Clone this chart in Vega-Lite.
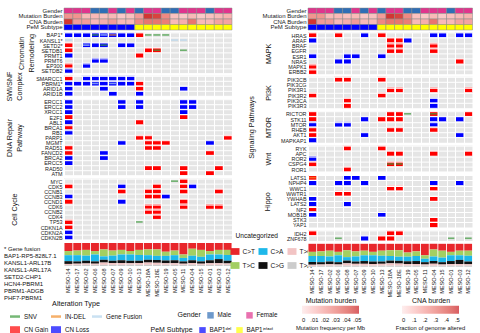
{
"$schema":"https://vega.github.io/schema/vega-lite/v6.json",
"padding":{"left":3,"top":7,"right":0,"bottom":0},
"background":"white",
"config":{
 "font":"Liberation Sans",
 "view":{"fill":"#e5e5e5","stroke":null},
 "axis":{"ticks":false,"domain":false,"labelFontSize":5.4,"labelColor":"#1a1a1a","titleFontWeight":"normal","titleFontSize":7.2,"titleColor":"#111","labelPadding":2,"grid":false},
 "legend":{"labelFontSize":6.3,"titleFontSize":7.2,"titleFontWeight":"normal","labelColor":"#111","titleColor":"#111"}
},
"datasets":{
 "samples":[
  {"sample":"MESO-14","gender":"Female","mut":0.022,"cna":0.45,"pem":"BAP1del","C>T":0.35,"T>C":0.18,"C>A":0.26,"C>G":0.12,"T>G":0.05,"T>A":0.04},
  {"sample":"MESO-17","gender":"Female","mut":0.022,"cna":0.2,"pem":"BAP1del","C>T":0.33,"T>C":0.2,"C>A":0.27,"C>G":0.1,"T>G":0.05,"T>A":0.05},
  {"sample":"MESO-02","gender":"Female","mut":0.012,"cna":0.2,"pem":"BAP1del","C>T":0.3,"T>C":0.25,"C>A":0.22,"C>G":0.12,"T>G":0.06,"T>A":0.05},
  {"sample":"MESO-06","gender":"Male","mut":0.012,"cna":0.12,"pem":"BAP1del","C>T":0.35,"T>C":0.15,"C>A":0.3,"C>G":0.1,"T>G":0.05,"T>A":0.05},
  {"sample":"MESO-08","gender":"Male","mut":0.01,"cna":0.15,"pem":"BAP1del","C>T":0.28,"T>C":0.3,"C>A":0.15,"C>G":0.12,"T>G":0.1,"T>A":0.05},
  {"sample":"MESO-07","gender":"Female","mut":0.012,"cna":0.2,"pem":"BAP1del","C>T":0.33,"T>C":0.22,"C>A":0.22,"C>G":0.1,"T>G":0.08,"T>A":0.05},
  {"sample":"MESO-09","gender":"Male","mut":0.008,"cna":0.12,"pem":"BAP1del","C>T":0.3,"T>C":0.2,"C>A":0.25,"C>G":0.12,"T>G":0.08,"T>A":0.05},
  {"sample":"MESO-10","gender":"Female","mut":0.01,"cna":0.12,"pem":"BAP1del","C>T":0.35,"T>C":0.15,"C>A":0.27,"C>G":0.11,"T>G":0.07,"T>A":0.05},
  {"sample":"MESO-13","gender":"Male","mut":0.02,"cna":0.25,"pem":"BAP1intact","C>T":0.3,"T>C":0.22,"C>A":0.25,"C>G":0.1,"T>G":0.08,"T>A":0.05},
  {"sample":"MESO-18A","gender":"Female","mut":0.045,"cna":0.3,"pem":"BAP1intact","C>T":0.28,"T>C":0.25,"C>A":0.2,"C>G":0.12,"T>G":0.1,"T>A":0.05},
  {"sample":"MESO-18E","gender":"Female","mut":0.042,"cna":0.3,"pem":"BAP1intact","C>T":0.28,"T>C":0.28,"C>A":0.18,"C>G":0.12,"T>G":0.09,"T>A":0.05},
  {"sample":"MESO-19","gender":"Male","mut":0.025,"cna":0.28,"pem":"BAP1intact","C>T":0.38,"T>C":0.18,"C>A":0.2,"C>G":0.12,"T>G":0.07,"T>A":0.05},
  {"sample":"MESO-05","gender":"Male","mut":0.01,"cna":0.12,"pem":"BAP1intact","C>T":0.33,"T>C":0.2,"C>A":0.22,"C>G":0.13,"T>G":0.07,"T>A":0.05},
  {"sample":"MESO-11","gender":"Female","mut":0.008,"cna":0.15,"pem":"BAP1intact","C>T":0.5,"T>C":0.15,"C>A":0.15,"C>G":0.1,"T>G":0.05,"T>A":0.05},
  {"sample":"MESO-04","gender":"Female","mut":0.012,"cna":0.3,"pem":"BAP1intact","C>T":0.25,"T>C":0.3,"C>A":0.2,"C>G":0.12,"T>G":0.08,"T>A":0.05},
  {"sample":"MESO-15","gender":"Female","mut":0.008,"cna":0.12,"pem":"BAP1intact","C>T":0.3,"T>C":0.3,"C>A":0.2,"C>G":0.1,"T>G":0.05,"T>A":0.05},
  {"sample":"MESO-01","gender":"Male","mut":0.01,"cna":0.12,"pem":"BAP1intact","C>T":0.35,"T>C":0.15,"C>A":0.25,"C>G":0.13,"T>G":0.07,"T>A":0.05},
  {"sample":"MESO-03","gender":"Female","mut":0.012,"cna":0.18,"pem":"BAP1intact","C>T":0.3,"T>C":0.2,"C>A":0.2,"C>G":0.18,"T>G":0.07,"T>A":0.05},
  {"sample":"MESO-12","gender":"Female","mut":0.014,"cna":0.18,"pem":"BAP1intact","C>T":0.3,"T>C":0.22,"C>A":0.25,"C>G":0.12,"T>G":0.06,"T>A":0.05}
 ],
 "alts":[
  {"g":"BAP1*","s":"MESO-14","t":"CN Loss"},{"g":"BAP1*","s":"MESO-17","t":"CN Loss"},{"g":"BAP1*","s":"MESO-02","t":"CN Loss"},{"g":"BAP1*","s":"MESO-06","t":"CN Loss"},{"g":"BAP1*","s":"MESO-08","t":"CN Loss"},{"g":"BAP1*","s":"MESO-07","t":"CN Loss"},{"g":"BAP1*","s":"MESO-09","t":"CN Loss"},{"g":"BAP1*","s":"MESO-10","t":"CN Loss"},
  {"g":"BAP1*","s":"MESO-06","t":"SNV"},{"g":"BAP1*","s":"MESO-08","t":"Gene Fusion"},{"g":"BAP1*","s":"MESO-07","t":"IN-DEL"},{"g":"BAP1*","s":"MESO-13","t":"CN Gain"},{"g":"BAP1*","s":"MESO-18A","t":"SNV"},{"g":"BAP1*","s":"MESO-18E","t":"SNV"},{"g":"BAP1*","s":"MESO-19","t":"SNV"},
  {"g":"KANSL1*","s":"MESO-14","t":"Gene Fusion"},{"g":"KANSL1*","s":"MESO-05","t":"Gene Fusion"},{"g":"KANSL1*","s":"MESO-11","t":"Gene Fusion"},
  {"g":"SETD2*","s":"MESO-14","t":"CN Gain"},{"g":"SETD2*","s":"MESO-02","t":"CN Loss"},{"g":"SETD2*","s":"MESO-02","t":"Gene Fusion"},{"g":"SETD2*","s":"MESO-06","t":"CN Loss"},{"g":"SETD2*","s":"MESO-08","t":"CN Loss"},{"g":"SETD2*","s":"MESO-08","t":"SNV"},{"g":"SETD2*","s":"MESO-09","t":"CN Loss"},{"g":"SETD2*","s":"MESO-10","t":"CN Loss"},
  {"g":"SETDB1","s":"MESO-14","t":"CN Gain"},{"g":"SETDB1","s":"MESO-18A","t":"CN Gain"},{"g":"SETDB1","s":"MESO-18E","t":"CN Gain"},{"g":"SETDB1","s":"MESO-18E","t":"SNV"},{"g":"SETDB1","s":"MESO-11","t":"SNV"},
  {"g":"PRMT1","s":"MESO-14","t":"CN Loss"},{"g":"PRMT1","s":"MESO-13","t":"CN Gain"},
  {"g":"PRMT6","s":"MESO-06","t":"CN Loss"},{"g":"PRMT6","s":"MESO-08","t":"CN Loss"},
  {"g":"EP300","s":"MESO-14","t":"CN Gain"},{"g":"EP300","s":"MESO-02","t":"CN Loss"},
  {"g":"SETDB2","s":"MESO-14","t":"CN Loss"},
  {"g":"SMARCC1","s":"MESO-14","t":"CN Gain"},{"g":"SMARCC1","s":"MESO-02","t":"CN Loss"},{"g":"SMARCC1","s":"MESO-06","t":"CN Loss"},{"g":"SMARCC1","s":"MESO-08","t":"CN Loss"},{"g":"SMARCC1","s":"MESO-07","t":"CN Loss"},{"g":"SMARCC1","s":"MESO-09","t":"CN Loss"},{"g":"SMARCC1","s":"MESO-10","t":"CN Loss"},
  {"g":"PBRM1*","s":"MESO-14","t":"CN Loss"},{"g":"PBRM1*","s":"MESO-17","t":"CN Loss"},{"g":"PBRM1*","s":"MESO-02","t":"CN Loss"},{"g":"PBRM1*","s":"MESO-06","t":"CN Loss"},{"g":"PBRM1*","s":"MESO-08","t":"CN Loss"},{"g":"PBRM1*","s":"MESO-07","t":"CN Loss"},{"g":"PBRM1*","s":"MESO-09","t":"CN Loss"},{"g":"PBRM1*","s":"MESO-10","t":"CN Loss"},{"g":"PBRM1*","s":"MESO-06","t":"Gene Fusion"},{"g":"PBRM1*","s":"MESO-07","t":"Gene Fusion"},{"g":"PBRM1*","s":"MESO-13","t":"CN Gain"},
  {"g":"ARID1A","s":"MESO-14","t":"CN Loss"},{"g":"ARID1A","s":"MESO-08","t":"CN Loss"},{"g":"ARID1A","s":"MESO-13","t":"CN Gain"},{"g":"ARID1A","s":"MESO-11","t":"CN Loss"},
  {"g":"ARID1B","s":"MESO-14","t":"CN Loss"},{"g":"ARID1B","s":"MESO-07","t":"CN Loss"},{"g":"ARID1B","s":"MESO-13","t":"CN Loss"},
  {"g":"ERCC1","s":"MESO-14","t":"CN Loss"},{"g":"ERCC1","s":"MESO-09","t":"CN Loss"},{"g":"ERCC1","s":"MESO-13","t":"CN Loss"},{"g":"ERCC1","s":"MESO-11","t":"CN Loss"},{"g":"ERCC1","s":"MESO-04","t":"CN Loss"},
  {"g":"ERCC2","s":"MESO-14","t":"CN Loss"},{"g":"ERCC2","s":"MESO-09","t":"CN Loss"},{"g":"ERCC2","s":"MESO-13","t":"CN Loss"},{"g":"ERCC2","s":"MESO-11","t":"CN Loss"},{"g":"ERCC2","s":"MESO-04","t":"CN Loss"},
  {"g":"XRCC1","s":"MESO-14","t":"CN Loss"},{"g":"XRCC1","s":"MESO-11","t":"CN Loss"},
  {"g":"E2F1","s":"MESO-14","t":"CN Gain"},{"g":"E2F1","s":"MESO-11","t":"CN Gain"},
  {"g":"ABL1","s":"MESO-14","t":"CN Loss"},{"g":"ABL1","s":"MESO-13","t":"CN Gain"},
  {"g":"BRCA1","s":"MESO-14","t":"CN Gain"},
  {"g":"RB1","s":"MESO-14","t":"CN Loss"},
  {"g":"PARP1","s":"MESO-13","t":"CN Gain"},{"g":"PARP1","s":"MESO-18A","t":"CN Gain"},{"g":"PARP1","s":"MESO-12","t":"CN Gain"},
  {"g":"MGMT","s":"MESO-09","t":"CN Loss"},{"g":"MGMT","s":"MESO-18A","t":"CN Gain"},{"g":"MGMT","s":"MESO-18E","t":"CN Gain"},{"g":"MGMT","s":"MESO-19","t":"CN Gain"},{"g":"MGMT","s":"MESO-01","t":"CN Loss"},
  {"g":"RAD51","s":"MESO-14","t":"CN Gain"},{"g":"RAD51","s":"MESO-18A","t":"CN Gain"},{"g":"RAD51","s":"MESO-18E","t":"CN Gain"},
  {"g":"FANCD2","s":"MESO-14","t":"CN Gain"},{"g":"FANCD2","s":"MESO-08","t":"CN Loss"},{"g":"FANCD2","s":"MESO-01","t":"CN Gain"},
  {"g":"BRCA2","s":"MESO-14","t":"CN Loss"},{"g":"BRCA2","s":"MESO-08","t":"CN Loss"},
  {"g":"ERCC5","s":"MESO-14","t":"CN Loss"},
  {"g":"RAD50","s":"MESO-18A","t":"CN Gain"},{"g":"RAD50","s":"MESO-18E","t":"CN Gain"},{"g":"RAD50","s":"MESO-11","t":"CN Gain"},{"g":"RAD50","s":"MESO-03","t":"CN Gain"},
  {"g":"ATM","s":"MESO-11","t":"CN Gain"},{"g":"ATM","s":"MESO-01","t":"CN Gain"},
  {"g":"MYC","s":"MESO-05","t":"SNV"},{"g":"MYC","s":"MESO-11","t":"CN Gain"},
  {"g":"CDK5","s":"MESO-14","t":"CN Gain"},{"g":"CDK5","s":"MESO-09","t":"CN Loss"},{"g":"CDK5","s":"MESO-18E","t":"CN Gain"},{"g":"CDK5","s":"MESO-11","t":"CN Gain"},{"g":"CDK5","s":"MESO-04","t":"CN Loss"},
  {"g":"CCNB1","s":"MESO-09","t":"CN Gain"},{"g":"CCNB1","s":"MESO-18A","t":"CN Gain"},{"g":"CCNB1","s":"MESO-18E","t":"CN Gain"},{"g":"CCNB1","s":"MESO-11","t":"CN Gain"},{"g":"CCNB1","s":"MESO-03","t":"CN Gain"},
  {"g":"CCNB3","s":"MESO-14","t":"CN Loss"},{"g":"CCNB3","s":"MESO-18A","t":"CN Gain"},{"g":"CCNB3","s":"MESO-18E","t":"CN Gain"},{"g":"CCNB3","s":"MESO-19","t":"CN Loss"},
  {"g":"CCND1","s":"MESO-14","t":"CN Gain"},{"g":"CCND1","s":"MESO-09","t":"CN Loss"},{"g":"CCND1","s":"MESO-11","t":"CN Gain"},
  {"g":"CDK6","s":"MESO-18A","t":"CN Gain"},{"g":"CDK6","s":"MESO-18E","t":"CN Gain"},{"g":"CDK6","s":"MESO-11","t":"CN Gain"},{"g":"CDK6","s":"MESO-01","t":"CN Gain"},{"g":"CDK6","s":"MESO-03","t":"CN Gain"},
  {"g":"CCNB2","s":"MESO-18A","t":"CN Gain"},{"g":"CCNB2","s":"MESO-18E","t":"CN Gain"},
  {"g":"CDK4","s":"MESO-18E","t":"CN Gain"},
  {"g":"TP53","s":"MESO-14","t":"CN Gain"},{"g":"TP53","s":"MESO-13","t":"SNV"},
  {"g":"CDKN1A","s":"MESO-14","t":"CN Gain"},
  {"g":"CDKN2A","s":"MESO-14","t":"CN Loss"},
  {"g":"CDKN2B","s":"MESO-14","t":"CN Loss"},
  {"g":"HRAS","s":"MESO-14","t":"CN Gain"},{"g":"HRAS","s":"MESO-06","t":"CN Gain"},{"g":"HRAS","s":"MESO-09","t":"CN Loss"},{"g":"HRAS","s":"MESO-13","t":"CN Gain"},{"g":"HRAS","s":"MESO-04","t":"CN Loss"},{"g":"HRAS","s":"MESO-15","t":"CN Loss"},{"g":"HRAS","s":"MESO-03","t":"CN Loss"},{"g":"HRAS","s":"MESO-12","t":"CN Loss"},
  {"g":"ARAF","s":"MESO-14","t":"CN Loss"},{"g":"ARAF","s":"MESO-18A","t":"CN Gain"},{"g":"ARAF","s":"MESO-18E","t":"CN Gain"},{"g":"ARAF","s":"MESO-19","t":"CN Loss"},
  {"g":"BRAF","s":"MESO-18A","t":"CN Gain"},{"g":"BRAF","s":"MESO-18E","t":"CN Gain"},{"g":"BRAF","s":"MESO-04","t":"CN Gain"},
  {"g":"EGFR","s":"MESO-18A","t":"CN Gain"},{"g":"EGFR","s":"MESO-18E","t":"CN Gain"},{"g":"EGFR","s":"MESO-04","t":"CN Gain"},
  {"g":"ESR1","s":"MESO-14","t":"CN Loss"},{"g":"ESR1","s":"MESO-08","t":"CN Loss"},{"g":"ESR1","s":"MESO-07","t":"CN Loss"},{"g":"ESR1","s":"MESO-13","t":"CN Loss"},
  {"g":"NRAS","s":"MESO-06","t":"CN Loss"},{"g":"NRAS","s":"MESO-08","t":"CN Loss"},{"g":"NRAS","s":"MESO-03","t":"CN Gain"},
  {"g":"MAPK1","s":"MESO-14","t":"CN Gain"},
  {"g":"ERBB2","s":"MESO-14","t":"CN Gain"},
  {"g":"PIK3CB","s":"MESO-06","t":"CN Gain"},{"g":"PIK3CB","s":"MESO-08","t":"CN Gain"},{"g":"PIK3CB","s":"MESO-13","t":"CN Gain"},
  {"g":"PIK3R1","s":"MESO-18A","t":"CN Gain"},{"g":"PIK3R1","s":"MESO-18E","t":"CN Gain"},{"g":"PIK3R1","s":"MESO-04","t":"CN Gain"},{"g":"PIK3R1","s":"MESO-12","t":"CN Gain"},
  {"g":"PIK3R2","s":"MESO-14","t":"CN Gain"},{"g":"PIK3R2","s":"MESO-13","t":"CN Gain"},
  {"g":"PIK3CA","s":"MESO-08","t":"CN Gain"},{"g":"PIK3CA","s":"MESO-04","t":"CN Loss"},
  {"g":"PIK3R3","s":"MESO-08","t":"CN Gain"},{"g":"PIK3R3","s":"MESO-04","t":"CN Loss"},
  {"g":"RICTOR","s":"MESO-14","t":"CN Gain"},{"g":"RICTOR","s":"MESO-18A","t":"CN Gain"},{"g":"RICTOR","s":"MESO-18E","t":"CN Gain"},{"g":"RICTOR","s":"MESO-19","t":"SNV"},{"g":"RICTOR","s":"MESO-04","t":"CN Gain"},{"g":"RICTOR","s":"MESO-04","t":"SNV"},{"g":"RICTOR","s":"MESO-12","t":"CN Gain"},
  {"g":"STK11","s":"MESO-14","t":"CN Gain"},{"g":"STK11","s":"MESO-09","t":"CN Loss"},{"g":"STK11","s":"MESO-13","t":"CN Gain"},{"g":"STK11","s":"MESO-18A","t":"CN Gain"},{"g":"STK11","s":"MESO-18E","t":"CN Gain"},{"g":"STK11","s":"MESO-04","t":"CN Loss"},{"g":"STK11","s":"MESO-15","t":"CN Loss"},{"g":"STK11","s":"MESO-03","t":"CN Loss"},
  {"g":"MTOR","s":"MESO-14","t":"CN Loss"},{"g":"MTOR","s":"MESO-06","t":"CN Loss"},{"g":"MTOR","s":"MESO-08","t":"CN Loss"},{"g":"MTOR","s":"MESO-04","t":"CN Loss"},
  {"g":"RHEB","s":"MESO-14","t":"CN Gain"},{"g":"RHEB","s":"MESO-18A","t":"CN Gain"},{"g":"RHEB","s":"MESO-18E","t":"CN Gain"},{"g":"RHEB","s":"MESO-04","t":"CN Gain"},
  {"g":"AKT1","s":"MESO-14","t":"CN Gain"},{"g":"AKT1","s":"MESO-09","t":"CN Loss"},{"g":"AKT1","s":"MESO-03","t":"CN Loss"},
  {"g":"MAPKAP1","s":"MESO-14","t":"CN Loss"},
  {"g":"RYK","s":"MESO-08","t":"CN Gain"},{"g":"RYK","s":"MESO-13","t":"CN Gain"},
  {"g":"APC","s":"MESO-18A","t":"CN Gain"},{"g":"APC","s":"MESO-18E","t":"CN Gain"},{"g":"APC","s":"MESO-04","t":"CN Gain"},{"g":"APC","s":"MESO-12","t":"CN Gain"},
  {"g":"ROR2","s":"MESO-14","t":"CN Loss"},
  {"g":"CSPG4","s":"MESO-14","t":"CN Gain"},{"g":"CSPG4","s":"MESO-18A","t":"CN Gain"},{"g":"CSPG4","s":"MESO-18A","t":"SNV"},{"g":"CSPG4","s":"MESO-18E","t":"CN Gain"},{"g":"CSPG4","s":"MESO-18E","t":"SNV"},
  {"g":"ROR1","s":"MESO-08","t":"CN Gain"},
  {"g":"LATS1","s":"MESO-14","t":"CN Gain"},{"g":"LATS1","s":"MESO-14","t":"IN-DEL"},{"g":"LATS1","s":"MESO-08","t":"CN Loss"},{"g":"LATS1","s":"MESO-07","t":"CN Loss"},{"g":"LATS1","s":"MESO-13","t":"CN Loss"},
  {"g":"NPHP4","s":"MESO-14","t":"CN Loss"},{"g":"NPHP4","s":"MESO-06","t":"CN Loss"},{"g":"NPHP4","s":"MESO-08","t":"CN Loss"},{"g":"NPHP4","s":"MESO-09","t":"CN Loss"},{"g":"NPHP4","s":"MESO-04","t":"CN Loss"},{"g":"NPHP4","s":"MESO-03","t":"CN Loss"},
  {"g":"WWC1","s":"MESO-18A","t":"CN Gain"},{"g":"WWC1","s":"MESO-18E","t":"CN Gain"},{"g":"WWC1","s":"MESO-04","t":"CN Gain"},
  {"g":"WWTR1","s":"MESO-06","t":"CN Gain"},{"g":"WWTR1","s":"MESO-08","t":"CN Gain"},
  {"g":"YWHAB","s":"MESO-14","t":"CN Loss"},{"g":"YWHAB","s":"MESO-04","t":"CN Gain"},
  {"g":"LATS2","s":"MESO-14","t":"CN Loss"},{"g":"LATS2","s":"MESO-08","t":"CN Loss"},
  {"g":"NF2","s":"MESO-14","t":"CN Gain"},
  {"g":"MOB1B","s":"MESO-14","t":"CN Loss"},{"g":"MOB1B","s":"MESO-13","t":"CN Loss"},
  {"g":"STK3","s":"MESO-04","t":"CN Gain"},
  {"g":"YAP1","s":"MESO-04","t":"CN Gain"},
  {"g":"IDH2","s":"MESO-14","t":"CN Gain"},{"g":"IDH2","s":"MESO-18A","t":"CN Gain"},{"g":"IDH2","s":"MESO-18E","t":"CN Gain"},
  {"g":"ZNF678","s":"MESO-06","t":"SNV"},{"g":"ZNF678","s":"MESO-09","t":"CN Loss"},{"g":"ZNF678","s":"MESO-13","t":"CN Gain"},{"g":"ZNF678","s":"MESO-18A","t":"CN Gain"},{"g":"ZNF678","s":"MESO-01","t":"SNV"},{"g":"ZNF678","s":"MESO-12","t":"SNV"}
 ]
},
"spacing":244,
"bounds":"flush",
"resolve":{"scale":{"color":"independent","shape":"independent","x":"independent","y":"independent"},"legend":{"color":"independent","shape":"independent"}},
"hconcat":[
 {"spacing":2.4,"bounds":"flush",
  "resolve":{"scale":{"color":"independent","shape":"independent","x":"independent","y":"independent"},"legend":{"color":"independent","shape":"independent"}},
  "vconcat":[
  {"width":168,"height":{"step":5.5},"data":{"name":"samples"},
   "encoding":{"x":{"field":"sample","type":"nominal","scale":{"domain":["MESO-14","MESO-17","MESO-02","MESO-06","MESO-08","MESO-07","MESO-09","MESO-10","MESO-13","MESO-18A","MESO-18E","MESO-19","MESO-05","MESO-11","MESO-04","MESO-15","MESO-01","MESO-03","MESO-12"],"paddingInner":0,"paddingOuter":0},"axis":null}},
   "layer":[
    {"mark":{"type":"rect","stroke":"#888","strokeWidth":0.5},"encoding":{"y":{"datum":"Gender","type":"nominal","scale":{"domain":["Gender","Mutation Burden","CNA Burden","PeM Subtype"],"paddingInner":0,"paddingOuter":0},"axis":{"title":null,"labelFontSize":6}},"color":{"field":"gender","type":"nominal","scale":{"domain":["Male","Female"],"range":["#2f6eb5","#e0348d"]},"legend":null}}},
    {"mark":{"type":"rect","stroke":"#888","strokeWidth":0.5},"encoding":{"y":{"datum":"Mutation Burden","type":"nominal"},"color":{"field":"mut","type":"quantitative","scale":{"domain":[0,0.05],"range":["#fde6e6","#c8141e"]},"legend":null}}},
    {"mark":{"type":"rect","stroke":"#888","strokeWidth":0.5},"encoding":{"y":{"datum":"CNA Burden","type":"nominal"},"color":{"field":"cna","type":"quantitative","scale":{"domain":[0,0.5],"range":["#fde6e6","#c8141e"]},"legend":null}}},
    {"mark":{"type":"rect","stroke":"#888","strokeWidth":0.5},"encoding":{"y":{"datum":"PeM Subtype","type":"nominal"},"color":{"field":"pem","type":"nominal","scale":{"domain":["BAP1del","BAP1intact"],"range":["#0000ff","#ffff00"]},"legend":null}}}
   ],
   "resolve":{"scale":{"color":"independent"}}},
  {"width":168,"height":{"step":5.1},"data":{"name":"alts"},
   "transform":[{"filter":{"field":"g","oneOf":["BAP1*","KANSL1*","SETD2*","SETDB1","PRMT1","PRMT6","EP300","SETDB2"]}}],
   "encoding":{
    "x":{"field":"s","type":"nominal","scale":{"domain":["MESO-14","MESO-17","MESO-02","MESO-06","MESO-08","MESO-07","MESO-09","MESO-10","MESO-13","MESO-18A","MESO-18E","MESO-19","MESO-05","MESO-11","MESO-04","MESO-15","MESO-01","MESO-03","MESO-12"],"paddingInner":0,"paddingOuter":0},"axis":{"labels":false,"title":null,"grid":true,"tickBand":"extent","gridColor":"white","gridWidth":1}},
    "y":{"field":"g","type":"nominal","scale":{"domain":["BAP1*","KANSL1*","SETD2*","SETDB1","PRMT1","PRMT6","EP300","SETDB2"],"paddingInner":0,"paddingOuter":0},"axis":{"title":["Chromatin","Remodeling"],"titleLineHeight":10,"titlePadding":4,"grid":true,"tickBand":"extent","gridColor":"white","gridWidth":1}}},
   "layer":[
    {"transform":[{"filter":{"field":"t","oneOf":["CN Gain","CN Loss"]}}],"mark":{"type":"rect","stroke":"white","strokeWidth":0.7},"encoding":{"color":{"field":"t","type":"nominal","scale":{"domain":["SNV","IN-DEL","Gene Fusion","CN Gain","CN Loss"],"range":["#3c9a3c","#f28e2b","#b3d4ec","#ff0000","#0000ff"]},"legend":null}}},
    {"transform":[{"filter":{"field":"t","oneOf":["SNV","IN-DEL","Gene Fusion"]}}],"mark":{"type":"tick","orient":"horizontal","thickness":1.6,"size":7},"encoding":{"color":{"field":"t","type":"nominal","scale":{"domain":["SNV","IN-DEL","Gene Fusion","CN Gain","CN Loss"],"range":["#3c9a3c","#f28e2b","#b3d4ec","#ff0000","#0000ff"]},"legend":null}}}
   ]},
  {"width":168,"height":{"step":5.1},"data":{"name":"alts"},
   "transform":[{"filter":{"field":"g","oneOf":["SMARCC1","PBRM1*","ARID1A","ARID1B"]}}],
   "encoding":{
    "x":{"field":"s","type":"nominal","scale":{"domain":["MESO-14","MESO-17","MESO-02","MESO-06","MESO-08","MESO-07","MESO-09","MESO-10","MESO-13","MESO-18A","MESO-18E","MESO-19","MESO-05","MESO-11","MESO-04","MESO-15","MESO-01","MESO-03","MESO-12"],"paddingInner":0,"paddingOuter":0},"axis":{"labels":false,"title":null,"grid":true,"tickBand":"extent","gridColor":"white","gridWidth":1}},
    "y":{"field":"g","type":"nominal","scale":{"domain":["SMARCC1","PBRM1*","ARID1A","ARID1B"],"paddingInner":0,"paddingOuter":0},"axis":{"title":["SWI/SNF","Complex"],"titleLineHeight":10,"titlePadding":12,"grid":true,"tickBand":"extent","gridColor":"white","gridWidth":1}}},
   "layer":[
    {"transform":[{"filter":{"field":"t","oneOf":["CN Gain","CN Loss"]}}],"mark":{"type":"rect","stroke":"white","strokeWidth":0.7},"encoding":{"color":{"field":"t","type":"nominal","scale":{"domain":["SNV","IN-DEL","Gene Fusion","CN Gain","CN Loss"],"range":["#3c9a3c","#f28e2b","#b3d4ec","#ff0000","#0000ff"]},"legend":null}}},
    {"transform":[{"filter":{"field":"t","oneOf":["SNV","IN-DEL","Gene Fusion"]}}],"mark":{"type":"tick","orient":"horizontal","thickness":1.6,"size":7},"encoding":{"color":{"field":"t","type":"nominal","scale":{"domain":["SNV","IN-DEL","Gene Fusion","CN Gain","CN Loss"],"range":["#3c9a3c","#f28e2b","#b3d4ec","#ff0000","#0000ff"]},"legend":null}}}
   ]},
  {"width":168,"height":{"step":5.1},"data":{"name":"alts"},
   "transform":[{"filter":{"field":"g","oneOf":["ERCC1","ERCC2","XRCC1","E2F1","ABL1","BRCA1","RB1","PARP1","MGMT","RAD51","FANCD2","BRCA2","ERCC5","RAD50","ATM"]}}],
   "encoding":{
    "x":{"field":"s","type":"nominal","scale":{"domain":["MESO-14","MESO-17","MESO-02","MESO-06","MESO-08","MESO-07","MESO-09","MESO-10","MESO-13","MESO-18A","MESO-18E","MESO-19","MESO-05","MESO-11","MESO-04","MESO-15","MESO-01","MESO-03","MESO-12"],"paddingInner":0,"paddingOuter":0},"axis":{"labels":false,"title":null,"grid":true,"tickBand":"extent","gridColor":"white","gridWidth":1}},
    "y":{"field":"g","type":"nominal","scale":{"domain":["ERCC1","ERCC2","XRCC1","E2F1","ABL1","BRCA1","RB1","PARP1","MGMT","RAD51","FANCD2","BRCA2","ERCC5","RAD50","ATM"],"paddingInner":0,"paddingOuter":0},"axis":{"title":["DNA Repair","Pathway"],"titleLineHeight":10,"titlePadding":17,"grid":true,"tickBand":"extent","gridColor":"white","gridWidth":1}}},
   "layer":[
    {"transform":[{"filter":{"field":"t","oneOf":["CN Gain","CN Loss"]}}],"mark":{"type":"rect","stroke":"white","strokeWidth":0.7},"encoding":{"color":{"field":"t","type":"nominal","scale":{"domain":["SNV","IN-DEL","Gene Fusion","CN Gain","CN Loss"],"range":["#3c9a3c","#f28e2b","#b3d4ec","#ff0000","#0000ff"]},"legend":null}}},
    {"transform":[{"filter":{"field":"t","oneOf":["SNV","IN-DEL","Gene Fusion"]}}],"mark":{"type":"tick","orient":"horizontal","thickness":1.6,"size":7},"encoding":{"color":{"field":"t","type":"nominal","scale":{"domain":["SNV","IN-DEL","Gene Fusion","CN Gain","CN Loss"],"range":["#3c9a3c","#f28e2b","#b3d4ec","#ff0000","#0000ff"]},"legend":null}}}
   ]},
  {"width":168,"height":{"step":5.1},"data":{"name":"alts"},
   "transform":[{"filter":{"field":"g","oneOf":["MYC","CDK5","CCNB1","CCNB3","CCND1","CDK6","CCNB2","CDK4","TP53","CDKN1A","CDKN2A","CDKN2B"]}}],
   "encoding":{
    "x":{"field":"s","type":"nominal","scale":{"domain":["MESO-14","MESO-17","MESO-02","MESO-06","MESO-08","MESO-07","MESO-09","MESO-10","MESO-13","MESO-18A","MESO-18E","MESO-19","MESO-05","MESO-11","MESO-04","MESO-15","MESO-01","MESO-03","MESO-12"],"paddingInner":0,"paddingOuter":0},"axis":{"labels":false,"title":null,"grid":true,"tickBand":"extent","gridColor":"white","gridWidth":1}},
    "y":{"field":"g","type":"nominal","scale":{"domain":["MYC","CDK5","CCNB1","CCNB3","CCND1","CDK6","CCNB2","CDK4","TP53","CDKN1A","CDKN2A","CDKN2B"],"paddingInner":0,"paddingOuter":0},"axis":{"title":"Cell Cycle","titlePadding":22,"grid":true,"tickBand":"extent","gridColor":"white","gridWidth":1}}},
   "layer":[
    {"transform":[{"filter":{"field":"t","oneOf":["CN Gain","CN Loss"]}}],"mark":{"type":"rect","stroke":"white","strokeWidth":0.7},"encoding":{"color":{"field":"t","type":"nominal","scale":{"domain":["SNV","IN-DEL","Gene Fusion","CN Gain","CN Loss"],"range":["#3c9a3c","#f28e2b","#b3d4ec","#ff0000","#0000ff"]},"legend":null}}},
    {"transform":[{"filter":{"field":"t","oneOf":["SNV","IN-DEL","Gene Fusion"]}}],"mark":{"type":"tick","orient":"horizontal","thickness":1.6,"size":7},"encoding":{"color":{"field":"t","type":"nominal","scale":{"domain":["SNV","IN-DEL","Gene Fusion","CN Gain","CN Loss"],"range":["#3c9a3c","#f28e2b","#b3d4ec","#ff0000","#0000ff"]},"legend":null}}}
   ]},
  {"width":168,"height":23,"view":{"fill":"white"},
   "layer":[
    {"data":{"name":"samples"},
     "transform":[{"fold":["C>T","T>C","C>A","C>G","T>G","T>A"],"as":["sig","frac"]},{"calculate":"indexof(['T>A','T>G','C>G','C>A','T>C','C>T'], datum.sig)","as":"ord"}],
     "mark":{"type":"bar"},
     "encoding":{
      "x":{"field":"sample","type":"nominal","scale":{"domain":["MESO-14","MESO-17","MESO-02","MESO-06","MESO-08","MESO-07","MESO-09","MESO-10","MESO-13","MESO-18A","MESO-18E","MESO-19","MESO-05","MESO-11","MESO-04","MESO-15","MESO-01","MESO-03","MESO-12"],"paddingInner":0.1,"paddingOuter":0.05},"axis":{"title":null,"labelAngle":-90,"labelFontSize":5.6,"labelPadding":2}},
      "y":{"field":"frac","type":"quantitative","stack":"normalize","axis":{"labels":false,"grid":false,"title":["* Gene fusion","BAP1-RP5-828L7.1","KANSL1-ARL17B","KANSL1-ARL17A","SETD2-CHP1","HCN4-PBRM1","PBRM1-ADGB","PHF7-PBRM1"],"titleAngle":0,"titleAlign":"left","titleBaseline":"top","titleX":-60.5,"titleY":2,"titleFontSize":6,"titleLineHeight":7.1}},
      "color":{"field":"sig","type":"nominal","scale":{"domain":["C>T","C>A","T>G","T>C","C>G","T>A"],"range":["#e8262b","#1eb8ea","#f2c4c4","#a3cf62","#111111","#cccccc"]},"legend":{"title":null,"orient":"none","legendX":166.5,"legendY":4,"direction":"horizontal","columns":3,"symbolType":"M-1,-0.75H1V0.75H-1Z","symbolSize":81,"labelFontSize":6.5,"columnPadding":3,"rowPadding":6,"labelOffset":3,"symbolStrokeWidth":0}},
      "order":{"field":"ord","type":"quantitative"}}},
    {"data":{"name":"alts"},"transform":[{"filter":"false"}],"mark":{"type":"point","filled":true,"size":100},
     "encoding":{
      "color":{"field":"t","type":"nominal","scale":{"domain":["SNV","IN-DEL","Gene Fusion","CN Gain","CN Loss"],"range":["#3c9a3c","#f28e2b","#b3d4ec","#ff0000","#0000ff"]},"legend":{"title":"Alteration Type","orient":"none","legendX":-54,"legendY":57,"direction":"horizontal","columns":3,"symbolSize":100,"labelFontSize":6.3,"columnPadding":2,"rowPadding":5,"titleAnchor":"middle","titlePadding":4,"symbolStrokeWidth":0}},
      "shape":{"field":"t","type":"nominal","scale":{"domain":["SNV","IN-DEL","Gene Fusion","CN Gain","CN Loss"],"range":["M-1,-0.25H1V0.25H-1Z","M-1,-0.25H1V0.25H-1Z","M-1,-0.25H1V0.25H-1Z","M-1,-0.8H1V0.8H-1Z","M-1,-0.8H1V0.8H-1Z"]},"legend":{"title":"Alteration Type","orient":"none","legendX":-54,"legendY":57,"direction":"horizontal","columns":3,"symbolSize":100,"labelFontSize":6.3,"columnPadding":2,"rowPadding":5,"titleAnchor":"middle","titlePadding":4,"symbolStrokeWidth":0}}}},
    {"data":{"name":"samples"},"transform":[{"filter":"false"}],"mark":{"type":"square","filled":true,"size":42},
     "encoding":{"color":{"field":"gender","type":"nominal","scale":{"domain":["Male","Female"],"range":["#2f6eb5","#e0348d"]},"legend":{"title":"Gender","orient":"none","legendX":113.5,"legendY":68,"direction":"horizontal","titleOrient":"left","symbolType":"square","symbolSize":42,"columnPadding":14,"labelOffset":3,"titleFontSize":7,"labelFontSize":6.3}}}},
    {"data":{"name":"samples"},"transform":[{"filter":"false"}],"mark":{"type":"square","filled":true,"size":42},
     "encoding":{"color":{"field":"pem","type":"nominal","scale":{"domain":["BAP1del","BAP1intact"],"range":["#0000ff","#ffff00"]},"legend":{"title":"PeM Subtype","orient":"none","legendX":86.5,"legendY":83,"direction":"horizontal","titleOrient":"left","symbolType":"square","symbolSize":42,"columnPadding":4,"labelOffset":3,"titleFontSize":7,"labelFontSize":6.3,"labelExpr":"datum.label == 'BAP1del' ? 'BAP1ᵈᵉˡ' : 'BAP1ⁱⁿᵗᵃᶜᵗ'"}}}}
   ],
   "resolve":{"scale":{"color":"independent","shape":"independent"},"legend":{"color":"independent","shape":"independent"}}}
 ]},
 {"spacing":2.4,"bounds":"flush",
  "resolve":{"scale":{"color":"independent","shape":"independent","x":"independent","y":"independent"},"legend":{"color":"independent","shape":"independent"}},
  "vconcat":[
  {"width":164.5,"height":{"step":5.5},"data":{"name":"samples"},
   "encoding":{"x":{"field":"sample","type":"nominal","scale":{"domain":["MESO-14","MESO-17","MESO-02","MESO-06","MESO-08","MESO-07","MESO-09","MESO-10","MESO-13","MESO-18A","MESO-18E","MESO-19","MESO-05","MESO-11","MESO-04","MESO-15","MESO-01","MESO-03","MESO-12"],"paddingInner":0,"paddingOuter":0},"axis":null}},
   "layer":[
    {"mark":{"type":"rect","stroke":"#888","strokeWidth":0.5},"encoding":{"y":{"datum":"Gender","type":"nominal","scale":{"domain":["Gender","Mutation Burden","CNA Burden","PeM Subtype"],"paddingInner":0,"paddingOuter":0},"axis":{"title":null,"labelFontSize":6}},"color":{"field":"gender","type":"nominal","scale":{"domain":["Male","Female"],"range":["#2f6eb5","#e0348d"]},"legend":null}}},
    {"mark":{"type":"rect","stroke":"#888","strokeWidth":0.5},"encoding":{"y":{"datum":"Mutation Burden","type":"nominal"},"color":{"field":"mut","type":"quantitative","scale":{"domain":[0,0.05],"range":["#fde6e6","#c8141e"]},"legend":null}}},
    {"mark":{"type":"rect","stroke":"#888","strokeWidth":0.5},"encoding":{"y":{"datum":"CNA Burden","type":"nominal"},"color":{"field":"cna","type":"quantitative","scale":{"domain":[0,0.5],"range":["#fde6e6","#c8141e"]},"legend":null}}},
    {"mark":{"type":"rect","stroke":"#888","strokeWidth":0.5},"encoding":{"y":{"datum":"PeM Subtype","type":"nominal"},"color":{"field":"pem","type":"nominal","scale":{"domain":["BAP1del","BAP1intact"],"range":["#0000ff","#ffff00"]},"legend":null}}}
   ],
   "resolve":{"scale":{"color":"independent"}}},
  {"width":164.5,"height":{"step":5.25},"data":{"name":"alts"},
   "transform":[{"filter":{"field":"g","oneOf":["HRAS","ARAF","BRAF","EGFR","ESR1","NRAS","MAPK1","ERBB2"]}}],
   "encoding":{
    "x":{"field":"s","type":"nominal","scale":{"domain":["MESO-14","MESO-17","MESO-02","MESO-06","MESO-08","MESO-07","MESO-09","MESO-10","MESO-13","MESO-18A","MESO-18E","MESO-19","MESO-05","MESO-11","MESO-04","MESO-15","MESO-01","MESO-03","MESO-12"],"paddingInner":0,"paddingOuter":0},"axis":{"labels":false,"title":null,"grid":true,"tickBand":"extent","gridColor":"white","gridWidth":1}},
    "y":{"field":"g","type":"nominal","scale":{"domain":["HRAS","ARAF","BRAF","EGFR","ESR1","NRAS","MAPK1","ERBB2"],"paddingInner":0,"paddingOuter":0},"axis":{"title":"MAPK","titlePadding":15,"grid":true,"tickBand":"extent","gridColor":"white","gridWidth":1}}},
   "layer":[
    {"transform":[{"filter":{"field":"t","oneOf":["CN Gain","CN Loss"]}}],"mark":{"type":"rect","stroke":"white","strokeWidth":0.7},"encoding":{"color":{"field":"t","type":"nominal","scale":{"domain":["SNV","IN-DEL","Gene Fusion","CN Gain","CN Loss"],"range":["#3c9a3c","#f28e2b","#b3d4ec","#ff0000","#0000ff"]},"legend":null}}},
    {"transform":[{"filter":{"field":"t","oneOf":["SNV","IN-DEL","Gene Fusion"]}}],"mark":{"type":"tick","orient":"horizontal","thickness":1.6,"size":7},"encoding":{"color":{"field":"t","type":"nominal","scale":{"domain":["SNV","IN-DEL","Gene Fusion","CN Gain","CN Loss"],"range":["#3c9a3c","#f28e2b","#b3d4ec","#ff0000","#0000ff"]},"legend":null}}}
   ]},
  {"width":164.5,"height":{"step":5.25},"data":{"name":"alts"},
   "transform":[{"filter":{"field":"g","oneOf":["PIK3CB","PIK3CG","PIK3R1","PIK3R2","PIK3CA","PIK3R3"]}}],
   "encoding":{
    "x":{"field":"s","type":"nominal","scale":{"domain":["MESO-14","MESO-17","MESO-02","MESO-06","MESO-08","MESO-07","MESO-09","MESO-10","MESO-13","MESO-18A","MESO-18E","MESO-19","MESO-05","MESO-11","MESO-04","MESO-15","MESO-01","MESO-03","MESO-12"],"paddingInner":0,"paddingOuter":0},"axis":{"labels":false,"title":null,"grid":true,"tickBand":"extent","gridColor":"white","gridWidth":1}},
    "y":{"field":"g","type":"nominal","scale":{"domain":["PIK3CB","PIK3CG","PIK3R1","PIK3R2","PIK3CA","PIK3R3"],"paddingInner":0,"paddingOuter":0},"axis":{"title":"PI3K","titlePadding":14,"grid":true,"tickBand":"extent","gridColor":"white","gridWidth":1}}},
   "layer":[
    {"transform":[{"filter":{"field":"t","oneOf":["CN Gain","CN Loss"]}}],"mark":{"type":"rect","stroke":"white","strokeWidth":0.7},"encoding":{"color":{"field":"t","type":"nominal","scale":{"domain":["SNV","IN-DEL","Gene Fusion","CN Gain","CN Loss"],"range":["#3c9a3c","#f28e2b","#b3d4ec","#ff0000","#0000ff"]},"legend":null}}},
    {"transform":[{"filter":{"field":"t","oneOf":["SNV","IN-DEL","Gene Fusion"]}}],"mark":{"type":"tick","orient":"horizontal","thickness":1.6,"size":7},"encoding":{"color":{"field":"t","type":"nominal","scale":{"domain":["SNV","IN-DEL","Gene Fusion","CN Gain","CN Loss"],"range":["#3c9a3c","#f28e2b","#b3d4ec","#ff0000","#0000ff"]},"legend":null}}}
   ]},
  {"width":164.5,"height":{"step":5.25},"data":{"name":"alts"},
   "transform":[{"filter":{"field":"g","oneOf":["RICTOR","STK11","MTOR","RHEB","AKT1","MAPKAP1"]}}],
   "encoding":{
    "x":{"field":"s","type":"nominal","scale":{"domain":["MESO-14","MESO-17","MESO-02","MESO-06","MESO-08","MESO-07","MESO-09","MESO-10","MESO-13","MESO-18A","MESO-18E","MESO-19","MESO-05","MESO-11","MESO-04","MESO-15","MESO-01","MESO-03","MESO-12"],"paddingInner":0,"paddingOuter":0},"axis":{"labels":false,"title":null,"grid":true,"tickBand":"extent","gridColor":"white","gridWidth":1}},
    "y":{"field":"g","type":"nominal","scale":{"domain":["RICTOR","STK11","MTOR","RHEB","AKT1","MAPKAP1"],"paddingInner":0,"paddingOuter":0},"axis":{"title":["Signaling Pathways","MTOR"],"titleLineHeight":17,"titlePadding":8,"grid":true,"tickBand":"extent","gridColor":"white","gridWidth":1}}},
   "layer":[
    {"transform":[{"filter":{"field":"t","oneOf":["CN Gain","CN Loss"]}}],"mark":{"type":"rect","stroke":"white","strokeWidth":0.7},"encoding":{"color":{"field":"t","type":"nominal","scale":{"domain":["SNV","IN-DEL","Gene Fusion","CN Gain","CN Loss"],"range":["#3c9a3c","#f28e2b","#b3d4ec","#ff0000","#0000ff"]},"legend":null}}},
    {"transform":[{"filter":{"field":"t","oneOf":["SNV","IN-DEL","Gene Fusion"]}}],"mark":{"type":"tick","orient":"horizontal","thickness":1.6,"size":7},"encoding":{"color":{"field":"t","type":"nominal","scale":{"domain":["SNV","IN-DEL","Gene Fusion","CN Gain","CN Loss"],"range":["#3c9a3c","#f28e2b","#b3d4ec","#ff0000","#0000ff"]},"legend":null}}}
   ]},
  {"width":164.5,"height":{"step":5.25},"data":{"name":"alts"},
   "transform":[{"filter":{"field":"g","oneOf":["RYK","APC","ROR2","CSPG4","ROR1"]}}],
   "encoding":{
    "x":{"field":"s","type":"nominal","scale":{"domain":["MESO-14","MESO-17","MESO-02","MESO-06","MESO-08","MESO-07","MESO-09","MESO-10","MESO-13","MESO-18A","MESO-18E","MESO-19","MESO-05","MESO-11","MESO-04","MESO-15","MESO-01","MESO-03","MESO-12"],"paddingInner":0,"paddingOuter":0},"axis":{"labels":false,"title":null,"grid":true,"tickBand":"extent","gridColor":"white","gridWidth":1}},
    "y":{"field":"g","type":"nominal","scale":{"domain":["RYK","APC","ROR2","CSPG4","ROR1"],"paddingInner":0,"paddingOuter":0},"axis":{"title":"Wnt","titlePadding":15,"grid":true,"tickBand":"extent","gridColor":"white","gridWidth":1}}},
   "layer":[
    {"transform":[{"filter":{"field":"t","oneOf":["CN Gain","CN Loss"]}}],"mark":{"type":"rect","stroke":"white","strokeWidth":0.7},"encoding":{"color":{"field":"t","type":"nominal","scale":{"domain":["SNV","IN-DEL","Gene Fusion","CN Gain","CN Loss"],"range":["#3c9a3c","#f28e2b","#b3d4ec","#ff0000","#0000ff"]},"legend":null}}},
    {"transform":[{"filter":{"field":"t","oneOf":["SNV","IN-DEL","Gene Fusion"]}}],"mark":{"type":"tick","orient":"horizontal","thickness":1.6,"size":7},"encoding":{"color":{"field":"t","type":"nominal","scale":{"domain":["SNV","IN-DEL","Gene Fusion","CN Gain","CN Loss"],"range":["#3c9a3c","#f28e2b","#b3d4ec","#ff0000","#0000ff"]},"legend":null}}}
   ]},
  {"width":164.5,"height":{"step":5.25},"data":{"name":"alts"},
   "transform":[{"filter":{"field":"g","oneOf":["LATS1","NPHP4","WWC1","WWTR1","YWHAB","LATS2","NF2","MOB1B","STK3","YAP1"]}}],
   "encoding":{
    "x":{"field":"s","type":"nominal","scale":{"domain":["MESO-14","MESO-17","MESO-02","MESO-06","MESO-08","MESO-07","MESO-09","MESO-10","MESO-13","MESO-18A","MESO-18E","MESO-19","MESO-05","MESO-11","MESO-04","MESO-15","MESO-01","MESO-03","MESO-12"],"paddingInner":0,"paddingOuter":0},"axis":{"labels":false,"title":null,"grid":true,"tickBand":"extent","gridColor":"white","gridWidth":1}},
    "y":{"field":"g","type":"nominal","scale":{"domain":["LATS1","NPHP4","WWC1","WWTR1","YWHAB","LATS2","NF2","MOB1B","STK3","YAP1"],"paddingInner":0,"paddingOuter":0},"axis":{"title":"Hippo","titlePadding":14,"grid":true,"tickBand":"extent","gridColor":"white","gridWidth":1}}},
   "layer":[
    {"transform":[{"filter":{"field":"t","oneOf":["CN Gain","CN Loss"]}}],"mark":{"type":"rect","stroke":"white","strokeWidth":0.7},"encoding":{"color":{"field":"t","type":"nominal","scale":{"domain":["SNV","IN-DEL","Gene Fusion","CN Gain","CN Loss"],"range":["#3c9a3c","#f28e2b","#b3d4ec","#ff0000","#0000ff"]},"legend":null}}},
    {"transform":[{"filter":{"field":"t","oneOf":["SNV","IN-DEL","Gene Fusion"]}}],"mark":{"type":"tick","orient":"horizontal","thickness":1.6,"size":7},"encoding":{"color":{"field":"t","type":"nominal","scale":{"domain":["SNV","IN-DEL","Gene Fusion","CN Gain","CN Loss"],"range":["#3c9a3c","#f28e2b","#b3d4ec","#ff0000","#0000ff"]},"legend":null}}}
   ]},
  {"width":164.5,"height":{"step":5.25},"data":{"name":"alts"},
   "transform":[{"filter":{"field":"g","oneOf":["IDH2","ZNF678"]}}],
   "encoding":{
    "x":{"field":"s","type":"nominal","scale":{"domain":["MESO-14","MESO-17","MESO-02","MESO-06","MESO-08","MESO-07","MESO-09","MESO-10","MESO-13","MESO-18A","MESO-18E","MESO-19","MESO-05","MESO-11","MESO-04","MESO-15","MESO-01","MESO-03","MESO-12"],"paddingInner":0,"paddingOuter":0},"axis":{"labels":false,"title":null,"grid":true,"tickBand":"extent","gridColor":"white","gridWidth":1}},
    "y":{"field":"g","type":"nominal","scale":{"domain":["IDH2","ZNF678"],"paddingInner":0,"paddingOuter":0},"axis":{"title":"Uncategorized","titleFontSize":6.6,"titleAngle":0,"titleAlign":"right","titleBaseline":"middle","titlePadding":9,"grid":true,"tickBand":"extent","gridColor":"white","gridWidth":1}}},
   "layer":[
    {"transform":[{"filter":{"field":"t","oneOf":["CN Gain","CN Loss"]}}],"mark":{"type":"rect","stroke":"white","strokeWidth":0.7},"encoding":{"color":{"field":"t","type":"nominal","scale":{"domain":["SNV","IN-DEL","Gene Fusion","CN Gain","CN Loss"],"range":["#3c9a3c","#f28e2b","#b3d4ec","#ff0000","#0000ff"]},"legend":null}}},
    {"transform":[{"filter":{"field":"t","oneOf":["SNV","IN-DEL","Gene Fusion"]}}],"mark":{"type":"tick","orient":"horizontal","thickness":1.6,"size":7},"encoding":{"color":{"field":"t","type":"nominal","scale":{"domain":["SNV","IN-DEL","Gene Fusion","CN Gain","CN Loss"],"range":["#3c9a3c","#f28e2b","#b3d4ec","#ff0000","#0000ff"]},"legend":null}}}
   ]},
  {"width":164.5,"height":23,"view":{"fill":"white"},
   "layer":[
    {"data":{"name":"samples"},
     "transform":[{"fold":["C>T","T>C","C>A","C>G","T>G","T>A"],"as":["sig","frac"]},{"calculate":"indexof(['T>A','T>G','C>G','C>A','T>C','C>T'], datum.sig)","as":"ord"}],
     "mark":{"type":"bar"},
     "encoding":{
      "x":{"field":"sample","type":"nominal","scale":{"domain":["MESO-14","MESO-17","MESO-02","MESO-06","MESO-08","MESO-07","MESO-09","MESO-10","MESO-13","MESO-18A","MESO-18E","MESO-19","MESO-05","MESO-11","MESO-04","MESO-15","MESO-01","MESO-03","MESO-12"],"paddingInner":0.1,"paddingOuter":0.05},"axis":{"title":null,"labelAngle":-90,"labelFontSize":5.6,"labelPadding":2}},
      "y":{"field":"frac","type":"quantitative","stack":"normalize","axis":null},
      "color":{"field":"sig","type":"nominal","scale":{"domain":["C>T","C>A","T>G","T>C","C>G","T>A"],"range":["#e8262b","#1eb8ea","#f2c4c4","#a3cf62","#111111","#cccccc"]},"legend":null},
      "order":{"field":"ord","type":"quantitative"}}},
    {"data":{"name":"samples"},"transform":[{"filter":"false"}],"mark":{"type":"square","filled":true},
     "encoding":{"color":{"field":"mut","type":"quantitative","scale":{"domain":[-0.0015,0.0515],"range":["#fde6e6","#c8141e"]},"legend":{"title":"Mutation burden","orient":"none","legendX":-6,"legendY":53,"direction":"horizontal","gradientLength":57,"gradientThickness":8,"titleAnchor":"middle","titleFontSize":7,"titlePadding":2,"labelFontSize":5.8,"labelOffset":3,"values":[0,0.01,0.02,0.025,0.03,0.04,0.05],"labelOverlap":false,"labelExpr":"datum.value == 0.025 ? ['', 'Mutation frequency per Mb'] : replace(format(datum.value, '.2~f'), '0.', '.')","gradientStrokeWidth":0,"encode":{"labels":{"update":{"align":{"value":"center"},"lineHeight":{"value":8}}}}}}}},
    {"data":{"name":"samples"},"transform":[{"filter":"false"}],"mark":{"type":"square","filled":true},
     "encoding":{"color":{"field":"cna","type":"quantitative","scale":{"domain":[-0.015,0.515],"range":["#fde6e6","#c8141e"]},"legend":{"title":"CNA burden","orient":"none","legendX":94,"legendY":53,"direction":"horizontal","gradientLength":57,"gradientThickness":8,"titleAnchor":"middle","titleFontSize":7,"titlePadding":2,"labelFontSize":5.8,"labelOffset":3,"values":[0,0.1,0.2,0.25,0.3,0.4,0.5],"labelOverlap":false,"labelExpr":"datum.value == 0.25 ? ['', 'Fraction of genome altered'] : replace(format(datum.value, '.1~f'), '0.', '.')","gradientStrokeWidth":0,"encode":{"labels":{"update":{"align":{"value":"center"},"lineHeight":{"value":8}}}}}}}}
   ],
   "resolve":{"scale":{"color":"independent"},"legend":{"color":"independent"}}}
 ]}
]
}
